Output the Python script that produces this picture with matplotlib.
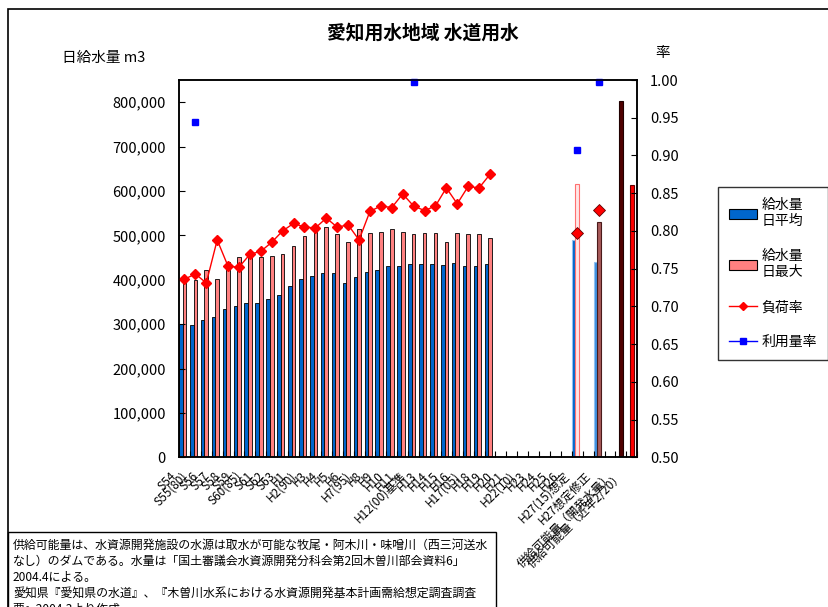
import numpy as np
import matplotlib
matplotlib.use("Agg")
from matplotlib import pyplot as plt
from matplotlib.patches import Rectangle, Patch
from matplotlib.lines import Line2D
from matplotlib.ticker import FuncFormatter, MultipleLocator, FixedLocator
from matplotlib.transforms import ScaledTranslation

plt.rcParams['font.family'] = ['Noto Sans CJK JP', 'DejaVu Sans']

# fiscal-year categories (blank slots separate the forecast / supply bars)
categories = ["S54", "S55(80)", "S56", "S57", "S58", "S59", "S60(85)", "S61", "S62", "S63",
              "H1", "H2(90)", "H3", "H4", "H5", "H6", "H7(95)", "H8", "H9", "H10",
              "H11", "H12(00)基準", "H13", "H14", "H15", "H16", "H17(05)", "H18", "H19", "H20",
              "H21", "H22(10)", "H23", "H24", "H25", "H26", "H27(15)想定", "",
              "H27想定修正", "", "供給可能量（開発水量）", "供給可能量（近年2/20）"]

# actual supply, m3/day
daily_avg = [300000, 297000, 309000, 317000, 333000, 341000, 348000, 348000, 356000, 366000,
             386000, 402000, 409000, 415000, 415000, 392000, 407000, 418000, 422000, 430000,
             430000, 435000, 435000, 435000, 433000, 437000, 430000, 430000, 435000]
daily_max = [400000, 400000, 422000, 402000, 439000, 452000, 454000, 451000, 454000, 458000,
             477000, 499000, 507000, 518000, 503000, 485000, 515000, 505000, 507000, 515000,
             507000, 503000, 505000, 505000, 486000, 505000, 503000, 503000, 494000]
load_factor = [0.736, 0.743, 0.731, 0.788, 0.753, 0.752, 0.769, 0.773, 0.785, 0.800,
               0.810, 0.805, 0.804, 0.817, 0.805, 0.808, 0.788, 0.826, 0.833, 0.831,
               0.849, 0.833, 0.827, 0.833, 0.857, 0.836, 0.859, 0.857, 0.875]

# H27 forecasts (original / revised)
forecast_pos = [36, 38]
forecast_avg = [490000, 440000]
forecast_max = [615000, 529000]
forecast_load = [0.797, 0.828]

# supply capacity
supply_pos = [40, 41]
supply = [803000, 613000]

# usage rate
usage_pos = [1, 21, 36, 38]
usage_rate = [0.944, 0.997, 0.907, 0.997]

W, H = 829, 607
fig = plt.figure(figsize=(W / 100, H / 100), dpi=100)
ax = fig.add_axes([179 / W, 1 - 457.3 / H, (637.3 - 179) / W, (457.3 - 80) / H])
ax2 = ax.twinx()

x_hist = np.arange(len(daily_avg))
w = 1 / 3
ax.bar(x_hist - w, daily_avg, w, color='#0066cc', edgecolor='black', linewidth=0.6)
ax.bar(x_hist, daily_max, w, color='#ff8080', edgecolor='black', linewidth=0.6)
fx = np.array(forecast_pos)
ax.bar(fx - w, forecast_avg, w, color=['#0066cc', '#3d8fe0'],
       edgecolor=['#8fc0f0', '#8fc0f0'], linewidth=0.8)
ax.bar(fx, forecast_max, w, color=['#ffe6e6', '#a85a5a'],
       edgecolor=['#ff7070', '#4a1a1a'], linewidth=0.8)
ax.bar(supply_pos, supply, w, color=['#500000', '#ff0000'],
       edgecolor=['#200000', '#600000'], linewidth=0.8)

ax.set_xlim(-0.5, len(categories) - 0.5)
ax.set_ylim(0, 850000)
ax.yaxis.set_major_locator(FixedLocator(np.arange(0, 800001, 100000)))
ax.yaxis.set_major_formatter(FuncFormatter(lambda v, p: f"{v:,.0f}"))

ax2.plot(x_hist, load_factor, color='#ff0000', linewidth=1.0, marker='D',
         markersize=5.5, markeredgecolor='#ff0000')
ax2.plot(forecast_pos, forecast_load, linestyle='none', marker='D', markersize=6,
         color='#ff0000', markeredgecolor='#600000', markeredgewidth=0.6)
ax2.plot(usage_pos, usage_rate, linestyle='none', marker='s', markersize=4.5,
         color='#0000ff', clip_on=False)
ax2.set_ylim(0.5, 1.0)
ax2.yaxis.set_major_locator(MultipleLocator(0.05))
ax2.yaxis.set_major_formatter(FuncFormatter(lambda v, p: f"{v:.2f}"))

# category labels at centres, tick marks at boundaries
ax.set_xticks(np.arange(len(categories)))
ax.set_xticklabels(categories, rotation=45, ha='right', va='center',
                   rotation_mode='anchor', fontsize=8.5)
ax.xaxis.set_minor_locator(FixedLocator(np.arange(-0.5, len(categories), 1)))
ax.tick_params(axis='x', which='major', length=0, pad=12)
ax.tick_params(axis='x', which='minor', direction='in', length=4, width=0.8)
shift = ScaledTranslation(-10 / 100, 0, fig.dpi_scale_trans)
for lab in ax.get_xticklabels():
    lab.set_transform(lab.get_transform() + shift)

ax.tick_params(axis='y', direction='in', length=4, width=0.8, labelsize=10.5, pad=9.5)
ax2.tick_params(axis='y', direction='in', length=4, width=0.8, labelsize=10.5, pad=9)
for a in (ax, ax2):
    for s in a.spines.values():
        s.set_linewidth(1.1)
        s.set_color('black')

fig.text(423 / W, 1 - 33 / H, "愛知用水地域 水道用水", ha='center', va='center',
         fontsize=13.5, fontweight='bold')
fig.text(62 / W, 1 - 58 / H, "日給水量 m3", ha='left', va='center', fontsize=10.5)
fig.text(663 / W, 1 - 53 / H, "率", ha='center', va='center', fontsize=10.5)

handles = [Patch(facecolor='#0066cc', edgecolor='black', linewidth=0.8),
           Patch(facecolor='#ff8080', edgecolor='black', linewidth=0.8),
           Line2D([], [], color='#ff0000', marker='D', markersize=4.5, linewidth=1),
           Line2D([], [], color='#0000ff', marker='s', markersize=4.5, linewidth=1)]
labels = ["給水量\n日平均", "給水量\n日最大", "負荷率", "利用量率"]
leg = fig.legend(handles, labels, loc='upper left',
                 bbox_to_anchor=(718 / W, 1 - 187 / H), frameon=True, fancybox=False,
                 edgecolor='black', fontsize=10, labelspacing=1.5, handlelength=2.0,
                 handletextpad=0.35, borderpad=0.8, borderaxespad=0)
leg.get_frame().set_linewidth(1.0)

# outer chart border and note box
fig.add_artist(Rectangle((8 / W, -0.1), 1.2, 1.1 - 9 / H, transform=fig.transFigure,
                         fill=False, edgecolor='black', linewidth=1.2))
fig.add_artist(Rectangle((8 / W, -0.1), (496 - 8) / W, 0.1 + 1 - 532 / H,
                         transform=fig.transFigure, fill=False, edgecolor='black',
                         linewidth=1.0))
notes = ["供給可能量は、水資源開発施設の水源は取水が可能な牧尾・阿木川・味噌川（西三河送水",
         "なし）のダムである。水量は「国土審議会水資源開発分科会第2回木曽川部会資料6」",
         "2004.4による。",
         "愛知県『愛知県の水道』、『木曽川水系における水資源開発基本計画需給想定調査調査",
         "票』2004.3より作成。"]
for i, line in enumerate(notes):
    fig.text(13 / W, 1 - (545 + 16 * i) / H, line, ha='left', va='center', fontsize=8.6)

fig.savefig("out.png", dpi=100)
